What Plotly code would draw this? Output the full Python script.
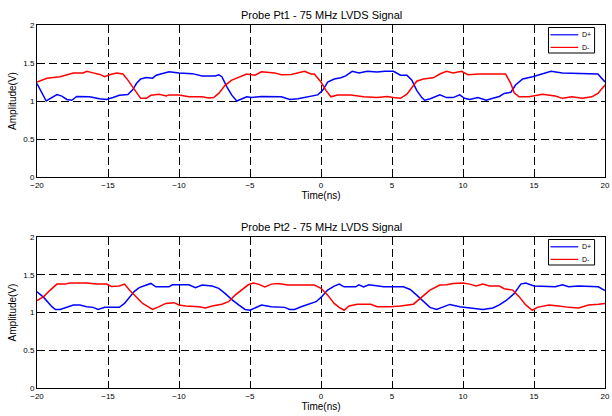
import plotly.graph_objects as go
from plotly.subplots import make_subplots

# ---------------- data ----------------
top_t_plus = [-20, -19.35, -18.6, -18.25, -17.9, -17.55, -17.2, -16.3, -15.6, -15.1, -14.65, -14.2, -13.6,
              -13.25, -13.0, -12.7, -12.3, -11.86, -11.6, -11.16, -10.7, -10.0, -9.07, -8.37, -7.44, -7.2,
              -6.98, -6.63, -6.28, -5.93, -5.58, -5.23, -4.88, -4.19, -2.79, -2.2, -1.63, -0.93, -0.23,
              0.12, 0.47, 0.93, 1.4, 1.74, 2.2, 2.67, 3.26, 3.95, 4.5, 5.1, 5.6, 6.05, 6.4, 6.74, 7.1, 7.3,
              7.7, 8.37, 8.84, 9.3, 9.77, 10.1, 10.47, 11.05, 11.63, 12.1, 12.56, 12.9, 13.37, 13.7, 14.2,
              14.9, 15.6, 16.2, 17.0, 18.4, 19.5, 20]
top_v_plus = [1.23, 1.0, 1.085, 1.065, 1.02, 1.01, 1.06, 1.055, 1.03, 1.02, 1.045, 1.075, 1.085,
              1.15, 1.23, 1.29, 1.31, 1.30, 1.34, 1.36, 1.385, 1.367, 1.36, 1.33, 1.33, 1.345,
              1.32, 1.187, 1.077, 1.0, 1.03, 1.055, 1.045, 1.06, 1.055, 1.02, 1.03, 1.055, 1.08,
              1.14, 1.25, 1.29, 1.305, 1.33, 1.39, 1.37, 1.39, 1.38, 1.39, 1.39, 1.34, 1.34, 1.275, 1.14, 1.045, 1.01,
              1.03, 1.08, 1.045, 1.045, 1.08, 1.035, 1.02, 1.045, 1.01, 1.035, 1.06, 1.1, 1.115, 1.21, 1.29,
              1.32, 1.355, 1.39, 1.37, 1.36, 1.355, 1.25]

top_t_minus = [-20, -19.3, -18.37, -17.44, -16.74, -16.5, -16.05, -15.58, -15.23, -14.9, -14.4, -13.95, -13.6,
               -13.25, -12.9, -12.7, -12.3, -11.98, -11.4, -10.9, -10.7, -10.0, -9.3, -8.37, -7.9, -7.56,
               -7.2, -6.74, -6.28, -5.8, -5.23, -4.65, -4.2, -3.26, -2.8, -2.1, -1.16, -0.7, -0.47, 0.0,
               0.35, 0.7, 1.16, 2.1, 3.0, 3.95, 4.65, 5.1, 5.6, 6.05, 6.4, 6.74, 7.2, 7.9, 8.37, 8.84, 9.3,
               9.9, 10.35, 11.16, 12.3, 13.0, 13.37, 13.6, 13.95, 14.65, 15.6, 16.5, 17.0, 17.67, 18.4,
               19.07, 19.5, 20]
top_v_minus = [1.25, 1.3, 1.32, 1.367, 1.37, 1.39, 1.37, 1.35, 1.32, 1.345, 1.367, 1.355, 1.275,
               1.187, 1.085, 1.035, 1.035, 1.075, 1.09, 1.065, 1.08, 1.08, 1.055, 1.055, 1.04, 1.045,
               1.1, 1.21, 1.275, 1.31, 1.355, 1.34, 1.385, 1.37, 1.345, 1.35, 1.39, 1.355, 1.355, 1.25,
               1.14, 1.055, 1.08, 1.08, 1.055, 1.045, 1.06, 1.045, 1.035, 1.09, 1.18, 1.26, 1.29, 1.305, 1.355, 1.39, 1.37,
               1.39, 1.345, 1.355, 1.355, 1.355, 1.23, 1.107, 1.055, 1.055, 1.09, 1.065, 1.035, 1.055, 1.035,
               1.055, 1.1, 1.21]

bot_t_plus = [-20, -19.53, -18.95, -18.7, -18.37, -17.9, -17.44, -16.98, -16.5, -16.05, -15.7, -15.23, -14.2,
              -13.84, -13.49, -13.14, -12.8, -12.33, -11.98, -11.63, -10.7, -10.47, -9.3, -8.84, -8.37, -7.67,
              -7.2, -6.74, -6.28, -5.8, -5.35, -5.0, -4.53, -4.19, -3.5, -2.56, -2.2, -1.86, -1.4, -0.7, -0.35,
              0, 0.47, 0.93, 1.28, 1.63, 2.44, 2.67, 3.0, 3.37, 3.95, 4.42, 5.8, 6.28, 6.74, 7.2, 7.67, 8.14,
              8.6, 9.07, 9.77, 10.47, 11.4, 12.1, 12.56, 13.02, 13.6, 14.07, 14.42, 15.0, 16.05, 16.5, 17.0,
              17.44, 18.14, 19.53, 20]
bot_v_plus = [1.275, 1.2, 1.077, 1.04, 1.04, 1.068, 1.1, 1.1, 1.077, 1.068, 1.04, 1.068, 1.068,
              1.12, 1.2, 1.28, 1.33, 1.363, 1.385, 1.34, 1.34, 1.367, 1.367, 1.33, 1.363, 1.35,
              1.32, 1.25, 1.17, 1.1, 1.04, 1.03, 1.068, 1.1, 1.077, 1.068, 1.04, 1.04, 1.077, 1.12, 1.143,
              1.2, 1.297, 1.35, 1.376, 1.34, 1.34, 1.367, 1.34, 1.367, 1.35, 1.34, 1.34, 1.305, 1.23, 1.143, 1.068, 1.04,
              1.077, 1.107, 1.077, 1.06, 1.04, 1.06, 1.1, 1.156, 1.25, 1.376, 1.39, 1.35, 1.34, 1.34, 1.367,
              1.34, 1.35, 1.34, 1.29]

bot_t_minus = [-20, -19.53, -19.07, -18.6, -18.02, -17.67, -16.5, -15.8, -15.1, -14.77, -14.2, -13.84, -13.49,
               -13.02, -12.56, -12.1, -11.86, -11.4, -10.93, -10.35, -10.0, -9.53, -8.6, -8.14, -7.67, -6.98,
               -6.51, -6.05, -5.58, -5.12, -4.77, -4.42, -3.95, -3.49, -3.02, -2.33, -0.47, 0, 0.47, 0.93,
               1.28, 1.63, 1.98, 2.56, 3.5, 3.95, 4.88, 5.6, 6.51, 7.1, 7.67, 8.37, 8.84, 9.3, 10.0, 10.47,
               10.93, 11.4, 11.86, 12.56, 12.9, 13.5, 13.95, 14.42, 14.88, 15.23, 16.05, 16.74, 17.44, 18.14,
               18.84, 19.53, 20]
bot_v_minus = [1.156, 1.21, 1.297, 1.376, 1.376, 1.39, 1.39, 1.376, 1.376, 1.345, 1.35, 1.376, 1.297,
               1.21, 1.12, 1.068, 1.04, 1.077, 1.12, 1.13, 1.1, 1.086, 1.077, 1.06, 1.086, 1.11,
               1.143, 1.23, 1.297, 1.367, 1.39, 1.376, 1.34, 1.376, 1.385, 1.363, 1.363, 1.32, 1.23, 1.12,
               1.068, 1.03, 1.086, 1.11, 1.11, 1.077, 1.077, 1.086, 1.11, 1.2, 1.297, 1.363, 1.367, 1.385, 1.39, 1.376,
               1.35, 1.376, 1.35, 1.35, 1.315, 1.297, 1.21, 1.1, 1.03, 1.068, 1.1, 1.086, 1.068, 1.06,
               1.1, 1.11, 1.12]

titles = ["Probe Pt1 - 75 MHz LVDS Signal", "Probe Pt2 - 75 MHz LVDS Signal"]
series_names = ["D+", "D-"]
series_colors = ["#0000ff", "#ff0000"]
x_ticks = [-20, -15, -10, -5, 0, 5, 10, 15, 20]
y_ticks = [0, 0.5, 1, 1.5, 2]

# ---------------- figure ----------------
FONT = "Liberation Sans, Arial, Helvetica, sans-serif"
W, H = 612, 416
ML, MR, MT, MB = 37, 2, 25, 28
PW, PH = W - ML - MR, H - MT - MB


def px_x(p):
    return (p - ML) / PW


def px_y(p):
    return (H - MB - p) / PH


fig = make_subplots(rows=2, cols=1, vertical_spacing=0.0)

panels = [((top_t_plus, top_v_plus), (top_t_minus, top_v_minus)),
          ((bot_t_plus, bot_v_plus), (bot_t_minus, bot_v_minus))]
for r, panel in enumerate(panels, start=1):
    for (t, v), name, col in zip(panel, series_names, series_colors):
        fig.add_trace(go.Scatter(x=t, y=v, name=name, mode="lines", showlegend=False,
                                 line=dict(color=col, width=1.5)), row=r, col=1)

axis_common = dict(showline=True, linecolor="black", linewidth=1, mirror="ticks",
                   ticks="inside", ticklen=4, tickcolor="black", tickwidth=1,
                   showgrid=True, gridcolor="black", gridwidth=1, griddash="8px,4px",
                   zeroline=False, ticklabeloverflow="allow",
                   tickfont=dict(size=8, color="black", family=FONT))

panel_tops = [25, 237]
panel_bots = [177, 388]
shapes, annotations = [], []
for r in (1, 2):
    dom = [px_y(panel_bots[r - 1]), px_y(panel_tops[r - 1])]
    fig.update_xaxes(range=[-20, 20], tickvals=x_ticks, row=r, col=1,
                     title=dict(text="Time(ns)", font=dict(size=10, color="black", family=FONT), standoff=1),
                     **axis_common)
    fig.update_yaxes(range=[0, 2], tickvals=y_ticks, row=r, col=1, domain=dom,
                     title=dict(text="Amplitude(V)", font=dict(size=10, color="black", family=FONT), standoff=4),
                     **axis_common)
    top = panel_tops[r - 1]
    # title
    annotations.append(dict(text=titles[r - 1], x=0.5, y=px_y(top - 10), xref="paper", yref="paper",
                            showarrow=False, xanchor="center", yanchor="middle",
                            font=dict(size=11, color="black", family=FONT)))
    # legend box (decoration)
    shapes.append(dict(type="rect", xref="paper", yref="paper",
                       x0=px_x(553), x1=px_x(599.5), y0=px_y(top + 28), y1=px_y(top + 2.5),
                       line=dict(color="black", width=1), fillcolor="white", layer="above"))
    for i, (name, col) in enumerate(zip(series_names, series_colors)):
        yy = top + 9.8 + i * 12.6
        shapes.append(dict(type="line", xref="paper", yref="paper",
                           x0=px_x(555), x1=px_x(583), y0=px_y(yy), y1=px_y(yy),
                           line=dict(color=col, width=1.2), layer="above"))
        annotations.append(dict(text=name, x=px_x(585), y=px_y(yy), xref="paper", yref="paper",
                                showarrow=False, xanchor="left", yanchor="middle",
                                font=dict(size=7, color="black", family=FONT)))

fig.update_layout(
    width=W, height=H,
    margin=dict(l=ML, r=MR, t=MT, b=MB),
    paper_bgcolor="white", plot_bgcolor="white",
    font=dict(family=FONT, color="black"),
    showlegend=False,
    shapes=shapes,
    annotations=annotations,
)

fig.write_html("out.html", config={"displayModeBar": False},
               post_script="document.body.style.margin='0px';")
